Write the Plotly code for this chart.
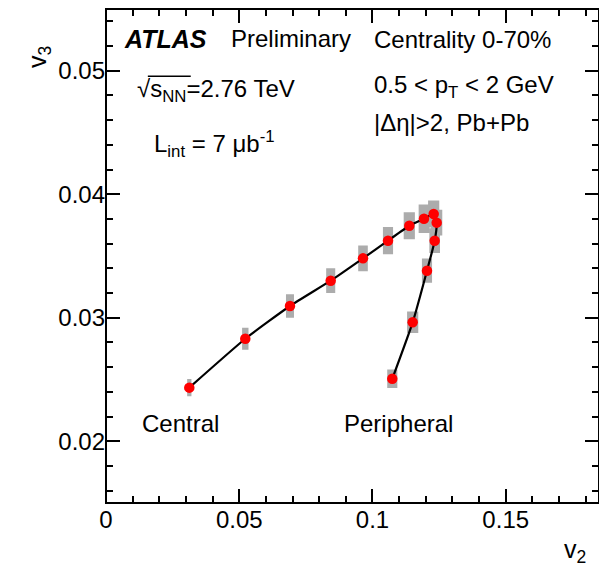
import plotly.graph_objects as go

# Data
v2 = [0.03126, 0.05227, 0.06904, 0.08432, 0.09644, 0.10582, 0.11381,
      0.11932, 0.12296, 0.12409, 0.12334, 0.12045, 0.11508, 0.10743]
v3 = [0.02434, 0.02830, 0.03095, 0.03300, 0.03481, 0.03624, 0.03745,
      0.03802, 0.03840, 0.03770, 0.03624, 0.03381, 0.02963, 0.02506]
sys_v2 = [0.0008, 0.0012, 0.0015, 0.0017, 0.0018, 0.0019, 0.0021,
          0.0020, 0.0021, 0.0021, 0.0020, 0.0019, 0.0021, 0.0019]
sys_v3 = [0.0007, 0.0009, 0.00095, 0.0010, 0.00104, 0.0011, 0.0011,
          0.00116, 0.0011, 0.00105, 0.0010, 0.00098, 0.00087, 0.00075]

X_RANGE = [0, 0.185]
Y_RANGE = [0.015, 0.055]

FONT = "Liberation Sans, Arial, Helvetica, sans-serif"
FS = 24

# systematic boxes built from the arrays
bx, by = [], []
for x, y, dx, dy in zip(v2, v3, sys_v2, sys_v3):
    bx += [x - dx, x + dx, x + dx, x - dx, x - dx, None]
    by += [y - dy, y - dy, y + dy, y + dy, y - dy, None]

fig = go.Figure()
fig.add_trace(go.Scatter(x=bx, y=by, mode="lines", fill="toself",
                         fillcolor="#acacac", line=dict(width=0, color="#acacac"),
                         hoverinfo="skip", showlegend=False))
fig.add_trace(go.Scatter(x=v2, y=v3, mode="lines",
                         line=dict(color="black", width=2.2, shape="spline", smoothing=0.5),
                         showlegend=False))
fig.add_trace(go.Scatter(x=v2, y=v3, mode="markers",
                         marker=dict(color="#ff0000", size=10.5, line=dict(width=0)),
                         showlegend=False))
# empty trace that carries the top / right tick axes
fig.add_trace(go.Scatter(x=[], y=[], xaxis="x2", yaxis="y2", showlegend=False,
                         hoverinfo="skip"))

tick_common = dict(showgrid=False, zeroline=False, showline=False,
                   ticks="inside", ticklen=14, tickwidth=2, tickcolor="black",
                   automargin=False,
                   tickfont=dict(family=FONT, size=FS, color="black"))
x_minor = dict(dtick=0.01, ticklen=7, tickwidth=2, ticks="inside", tickcolor="black")
y_minor = dict(dtick=0.002, ticklen=7, tickwidth=2, ticks="inside", tickcolor="black")

fig.update_layout(
    xaxis=dict(range=X_RANGE, dtick=0.05, tick0=0, minor=x_minor, **tick_common),
    yaxis=dict(range=Y_RANGE, dtick=0.01, tick0=0, minor=y_minor, **tick_common),
    xaxis2=dict(range=X_RANGE, dtick=0.05, tick0=0, minor=x_minor, overlaying="x",
                side="top", showticklabels=False, **tick_common),
    yaxis2=dict(range=Y_RANGE, dtick=0.01, tick0=0, minor=y_minor, overlaying="y",
                side="right", showticklabels=False, **tick_common),
)

# frame of the plot area
fig.add_shape(type="rect", xref="paper", yref="paper", x0=0, x1=1, y0=0, y1=1,
              line=dict(color="black", width=2), layer="above")

def ann(text, x, y, xref="x", yref="y", xanchor="left", yanchor="middle", angle=0, size=FS):
    fig.add_annotation(text=text, x=x, y=y, xref=xref, yref=yref, xanchor=xanchor,
                       yanchor=yanchor, showarrow=False, textangle=angle,
                       font=dict(family=FONT, size=size, color="black"))

ann("<b><i>ATLAS</i></b>", 0.0060, 0.05261, size=25)
ann("Preliminary", 0.0463, 0.05261)
ann("Centrality 0-70%", 0.1000, 0.05257)
ann("√s<sub>NN</sub>=2.76 TeV", 0.0109, 0.0484)
ann("0.5 < p<sub>T</sub> < 2 GeV", 0.1000, 0.0487)
ann("|Δη|>2, Pb+Pb", 0.1000, 0.04577)
ann("L<sub>int</sub> = 7 μb<sup>-1</sup>", 0.0173, 0.0441)
ann("Central", 0.0128, 0.0214)
ann("Peripheral", 0.0886, 0.0214)
ann("v<sub>3</sub>", -0.1359, 0.9028, xref="paper", yref="paper", xanchor="center", angle=-90, size=25)
ann("v<sub>2</sub>", 0.952, -0.0972, xref="paper", yref="paper", xanchor="center", size=25)

# overline of the square root
fig.add_shape(type="line", x0=0.0157, x1=0.0318, y0=0.04955, y1=0.04955,
              xref="x", yref="y", line=dict(color="black", width=1.5))

fig.update_layout(width=599, height=569, margin=dict(l=106, r=0, t=9, b=66, autoexpand=False),
                  paper_bgcolor="white", plot_bgcolor="white", showlegend=False)

fig.write_html("out.html")
